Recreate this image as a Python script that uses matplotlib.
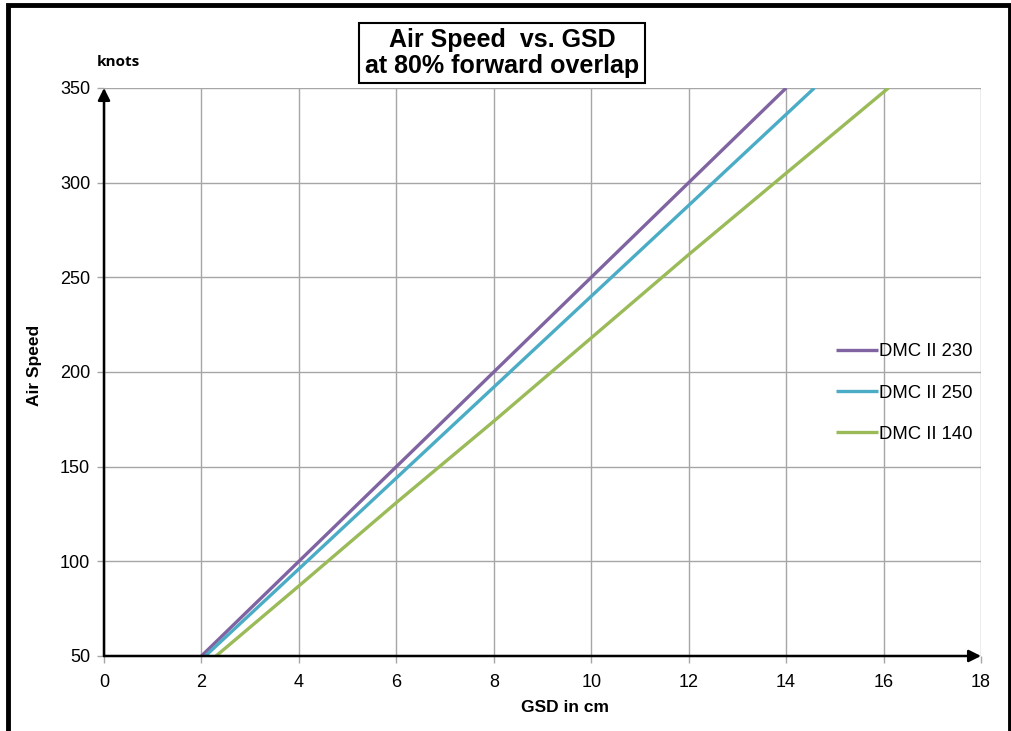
import matplotlib
matplotlib.use("Agg")
import matplotlib.pyplot as plt
from matplotlib.patches import Rectangle

plt.rcParams['font.family'] = ['Liberation Sans', 'DejaVu Sans']

# data (GSD in cm, air speed in knots)
gsd_230 = [2.0, 4.0, 6.0, 8.0, 10.0, 12.0, 14.0]
speed_230 = [50, 100, 150, 200, 250, 300, 350]
gsd_250 = [2.08, 4.0, 6.0, 8.0, 10.0, 12.0, 14.58]
speed_250 = [50, 96, 144, 192, 240, 288, 350]
gsd_140 = [2.3, 4.0, 6.0, 8.0, 10.0, 12.0, 14.0, 16.1]
speed_140 = [50, 87, 131, 174, 218, 262, 305, 350]

series = [
    ("DMC II 230", gsd_230, speed_230, "#8064A2"),
    ("DMC II 250", gsd_250, speed_250, "#4BACC6"),
    ("DMC II 140", gsd_140, speed_140, "#9BBB59"),
]

W, H = 1012, 731
fig = plt.figure(figsize=(W / 100, H / 100), dpi=100)
ax = fig.add_axes([104 / W, 1 - 656 / H, 877 / W, 568 / H])

for name, x, y, c in series:
    ax.plot(x, y, color=c, lw=2.4, label=name, solid_capstyle='butt')

ax.set_xlim(0, 18)
ax.set_ylim(50, 350)
ax.set_xticks(range(0, 19, 2))
ax.set_yticks(range(50, 351, 50))
ax.grid(True, color="#A6A6A6", lw=1)
ax.set_axisbelow(True)
for s in ax.spines.values():
    s.set_visible(False)
ax.tick_params(axis='both', colors="#A6A6A6", labelcolor='black',
               labelsize=13, length=5, width=1)
ax.tick_params(axis='x', pad=8)
ax.tick_params(axis='y', pad=5)

# axis arrows
ax.annotate("", xy=(18, 50), xytext=(0, 50), annotation_clip=False,
            arrowprops=dict(arrowstyle="-|>", color='black', lw=1.8,
                            mutation_scale=18, shrinkA=0, shrinkB=0))
ax.annotate("", xy=(0, 350), xytext=(0, 50), annotation_clip=False,
            arrowprops=dict(arrowstyle="-|>", color='black', lw=1.8,
                            mutation_scale=18, shrinkA=0, shrinkB=0))

ax.set_xlabel("GSD in cm", fontsize=12.5, fontweight='bold')
ax.xaxis.set_label_coords(0.526, -0.077)
ax.set_ylabel("Air Speed", fontsize=12.5, fontweight='bold')
ax.yaxis.set_label_coords(-0.071, 0.512)

fig.text(118 / W, 1 - 62 / H, "knots", fontsize=11, fontweight='bold',
         ha='center', va='center', family=['Open Sans', 'DejaVu Sans'])

fig.text(502 / W, 1 - 53 / H, "Air Speed  vs. GSD\nat 80% forward overlap",
         fontsize=18, fontweight='bold', ha='center', va='center',
         linespacing=1.1,
         bbox=dict(boxstyle='square,pad=0.22', fc='white', ec='black', lw=1.5))

ax.legend(loc='center left', bbox_to_anchor=(836 / W, 1 - 393 / H),
          bbox_transform=fig.transFigure, frameon=False, fontsize=13.3,
          handlelength=2.3, handletextpad=0.05, labelspacing=1.3,
          borderaxespad=0, borderpad=0)

# outer frame of the chart area
fig.patches.append(Rectangle((8 / W, -0.1), (1010 - 8) / W, 1.1 - 5 / H,
                             transform=fig.transFigure, fill=False,
                             ec='black', lw=3.5))

fig.savefig("out.png", dpi=100)
